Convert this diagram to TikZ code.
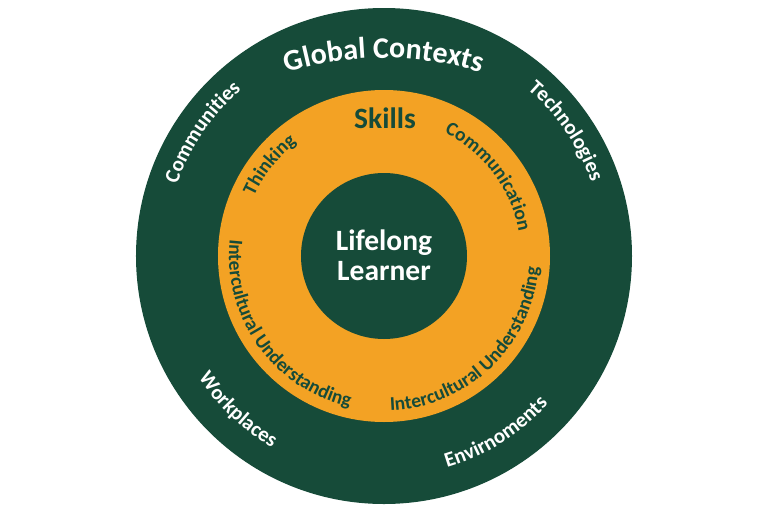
\documentclass[tikz,border=0pt]{standalone}
\usepackage{fontspec}
\setmainfont{Carlito}
\usetikzlibrary{decorations.text}
\definecolor{dgreen}{HTML}{164B39}
\definecolor{gold}{HTML}{F3A224}
\newcommand\outerfmt{\bfseries\fontsize{21}{21}\selectfont\color{white}}
\newcommand\innerfmt{\bfseries\fontsize{19.5}{19.5}\selectfont\color{dgreen}}
\newcommand\titlefmt{\bfseries\fontsize{30}{30}\selectfont\color{white}}
\tikzset{
  ringtext/.style 2 args={decorate, decoration={text along path, text align=center, text={|#1|#2}}},
  disc/.style={fill=#1, draw=none},
  bigword/.style={anchor=base, font=\bfseries\fontsize{29.5}{30}\selectfont, text=#1, inner sep=0pt}
}
\begin{document}
\begin{tikzpicture}[x=1pt,y=1pt]
\useasboundingbox (-384,-256) rectangle (384,256);
\fill[white] (-384,-256) rectangle (384,256);
% rings
\fill[disc=dgreen] (0,0) circle[radius=248];
\fill[disc=gold] (0,0) circle[radius=166];
\fill[disc=dgreen] (0,0) circle[radius=83];
% centre
\node[bigword=white] (lifelong) at (0,6) {Lifelong};
\node[bigword=white] (learner) at (0,-24) {Learner};
\node[bigword=dgreen] (skills) at (1,128) {Skills};
% global contexts
\path[shift={(0,-136)}, ringtext={\titlefmt}{Global Contexts}] (115:334) arc[start angle=115, end angle=65, radius=334];
% outer ring labels
\path[ringtext={\outerfmt}{Communities}] (175.75:219) arc[start angle=175.75, end angle=115.75, radius=219];
\path[ringtext={\outerfmt}{Technologies}] (64.5:220) arc[start angle=64.5, end angle=4.5, radius=220];
\path[ringtext={\outerfmt}{Workplaces}] (196.5:222) arc[start angle=196.5, end angle=256.5, radius=222];
\path[ringtext={\outerfmt}{Envirnoments}] (272.3:221) arc[start angle=272.3, end angle=332.3, radius=221];
% inner ring labels
\path[ringtext={\innerfmt}{Thinking}] (181.5:143) arc[start angle=181.5, end angle=101.5, radius=143];
\path[ringtext={\innerfmt}{Communication}] (87:137) arc[start angle=87, end angle=-13, radius=137];
\path[ringtext={\innerfmt}{Intercultural Understanding}] (155.5:155) arc[start angle=155.5, end angle=275.5, radius=155];
\path[ringtext={\innerfmt}{Intercultural Understanding}] (254:155) arc[start angle=254, end angle=374, radius=155];
\end{tikzpicture}
\end{document}
